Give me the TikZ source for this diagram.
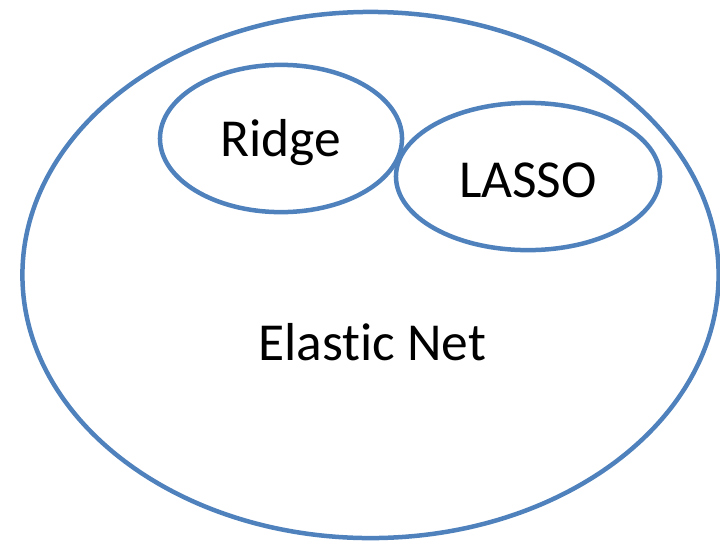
\documentclass[tikz,border=0pt]{standalone}
\usepackage{fontspec}
\setmainfont[Ligatures={NoCommon}]{Carlito}
\usetikzlibrary{shapes.geometric}
\definecolor{setblue}{RGB}{79,129,189}
\begin{document}
\begin{tikzpicture}[x=0.025cm, y=-0.025cm, font=\fontsize{38}{42}\selectfont,
		setring/.style={ellipse, draw=setblue, line width=3.2pt, inner sep=0pt}]
		
		\useasboundingbox (0,0) rectangle (720,540);
		
		% Tập lớn: Elastic Net
		\node[setring, minimum width=17.4cm, minimum height=13.15cm] (elastic) at (370.5,275) {};
		\node (elasticlabel) at (372,342) {Elastic Net};
		
		% Hai tập con
		\node[setring, minimum width=6.05cm, minimum height=3.68cm] (ridge) at (281,138.5) {};
		\node[setring, minimum width=6.6cm, minimum height=3.68cm] (lasso) at (528,176.5) {};
		\node (ridgelabel) at (281,143) {Ridge};
		\node (lassolabel) at (528,180) {LASSO};
		
\end{tikzpicture}
\end{document}
